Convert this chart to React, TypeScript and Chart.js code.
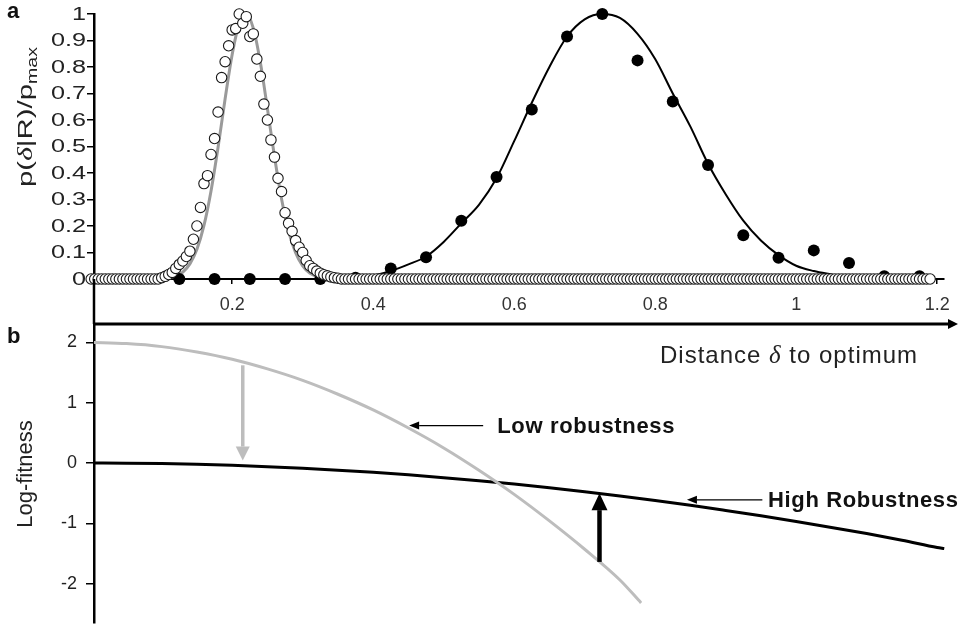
import React, { useEffect, useRef } from 'react';
import { Chart, registerables } from 'chart.js';

Chart.register(...registerables);

const FONT = "'Liberation Sans', Arial, Helvetica, sans-serif";

// ---------- Panel a data ----------
const HOLLOW_STEP = 0.005;
const hollowValues = [
  0, 0, 0, 0, 0, 0, 0, 0, 0, 0, 0, 0, 0, 0, 0, 0, 0, 0, 0, 0,
  0.005, 0.01, 0.017, 0.025, 0.04, 0.055, 0.068, 0.085, 0.105, 0.15, 0.2, 0.27, 0.36, 0.39, 0.47, 0.53, 0.63, 0.76, 0.82, 0.88,
  0.94, 0.945, 1, 0.965, 0.99, 0.915, 0.925, 0.83, 0.765, 0.66, 0.6, 0.525, 0.46, 0.38, 0.33, 0.25, 0.21, 0.18, 0.145, 0.12,
  0.1, 0.07, 0.05, 0.04, 0.03, 0.022, 0.016, 0.012, 0.008, 0.005, 0.003, 0, 0, 0, 0, 0, 0, 0, 0, 0,
  0, 0, 0, 0, 0, 0, 0, 0, 0, 0, 0, 0, 0, 0, 0, 0, 0, 0, 0, 0,
  0, 0, 0, 0, 0, 0, 0, 0, 0, 0, 0, 0, 0, 0, 0, 0, 0, 0, 0, 0,
  0, 0, 0, 0, 0, 0, 0, 0, 0, 0, 0, 0, 0, 0, 0, 0, 0, 0, 0, 0,
  0, 0, 0, 0, 0, 0, 0, 0, 0, 0, 0, 0, 0, 0, 0, 0, 0, 0, 0, 0,
  0, 0, 0, 0, 0, 0, 0, 0, 0, 0, 0, 0, 0, 0, 0, 0, 0, 0, 0, 0,
  0, 0, 0, 0, 0, 0, 0, 0, 0, 0, 0, 0, 0, 0, 0, 0, 0, 0, 0, 0,
  0, 0, 0, 0, 0, 0, 0, 0, 0, 0, 0, 0, 0, 0, 0, 0, 0, 0, 0, 0,
  0, 0, 0, 0, 0, 0, 0, 0, 0, 0, 0, 0, 0, 0, 0, 0, 0, 0, 0,
];

const grayFitX = [0, 0.09, 0.1, 0.11, 0.12, 0.13, 0.14, 0.15, 0.16, 0.17, 0.18, 0.19, 0.2, 0.21, 0.22, 0.23, 0.24, 0.25, 0.26, 0.27, 0.28, 0.29, 0.3, 0.31, 0.32, 0.33, 0.34, 0.35, 1.19];
const grayFitY = [0, 0, 0.0015, 0.0043, 0.011, 0.026, 0.057, 0.112, 0.202, 0.332, 0.497, 0.68, 0.847, 0.964, 0.999, 0.946, 0.817, 0.643, 0.462, 0.303, 0.181, 0.099, 0.049, 0.022, 0.0092, 0.0035, 0.001, 0, 0];

const filledX = [0.125, 0.175, 0.225, 0.275, 0.325, 0.375, 0.425, 0.475, 0.525, 0.575, 0.625, 0.675, 0.725, 0.775, 0.825, 0.875, 0.925, 0.975, 1.025, 1.075, 1.125, 1.175];
const filledY = [0, 0, 0, 0, 0, 0.005, 0.04, 0.082, 0.22, 0.385, 0.64, 0.915, 1, 0.825, 0.67, 0.43, 0.165, 0.08, 0.108, 0.06, 0.01, 0.01];

const blackFitX = [0.125, 0.375, 0.4, 0.425, 0.45, 0.475, 0.5, 0.525, 0.55, 0.575, 0.6, 0.625, 0.65, 0.675, 0.7, 0.725, 0.75, 0.775, 0.8, 0.825, 0.85, 0.875, 0.9, 0.925, 0.95, 0.975, 1, 1.025, 1.05, 1.075, 1.1, 1.19];
const blackFitY = [0, 0, 0.012, 0.03, 0.055, 0.085, 0.14, 0.21, 0.28, 0.38, 0.52, 0.665, 0.8, 0.915, 0.98, 1, 0.985, 0.925, 0.83, 0.7, 0.575, 0.435, 0.32, 0.22, 0.145, 0.09, 0.05, 0.03, 0.017, 0.005, 0, 0];

const yTicksA = [0, 0.1, 0.2, 0.3, 0.4, 0.5, 0.6, 0.7, 0.8, 0.9, 1];
const xTickValues = [0.2, 0.4, 0.6, 0.8, 1, 1.2];

// ---------- Panel b data ----------
const yTicksB = [-2, -1, 0, 1, 2];
const lowRobX = [0, 0.05, 0.1, 0.15, 0.2, 0.25, 0.3, 0.35, 0.4, 0.45, 0.5, 0.55, 0.6, 0.65, 0.7, 0.75, 0.78];
const lowRobY = [2, 1.98, 1.93, 1.84, 1.72, 1.56, 1.37, 1.14, 0.88, 0.58, 0.25, -0.12, -0.52, -0.96, -1.43, -1.94, -2.32];
const highRobX = [0, 0.05, 0.1, 0.15, 0.2, 0.25, 0.3, 0.35, 0.4, 0.45, 0.5, 0.55, 0.6, 0.65, 0.7, 0.75, 0.8, 0.85, 0.9, 0.95, 1, 1.05, 1.1, 1.15, 1.2, 1.21];
const highRobY = [0, -0.002, -0.01, -0.022, -0.039, -0.061, -0.087, -0.119, -0.155, -0.196, -0.243, -0.293, -0.349, -0.41, -0.475, -0.546, -0.621, -0.7, -0.786, -0.875, -0.97, -1.07, -1.17, -1.28, -1.4, -1.42];

// annotation anchors (data coordinates of panel b)
const grayShift = { x: 0.215, from: 1.62, to: 0.04 };
const blackShift = { x: 0.721, from: -1.64, to: -0.5 };
const lowLabel = { text: 'Low robustness', tipX: 0.451, tailX: 0.556, textX: 0.576, y: 0.62 };
const highLabel = { text: 'High Robustness', tipX: 0.845, tailX: 0.952, textX: 0.96, y: -0.61 };

const toPts = (xs: number[], ys: number[]) => xs.map((x, i) => ({ x, y: ys[i] }));
const fmt = (v: number) => String(Math.round(v * 100) / 100);

function drawArrow(ctx: CanvasRenderingContext2D, x1: number, y1: number, x2: number, y2: number, color: string, width: number, headLen: number, headHalf: number) {
  const ang = Math.atan2(y2 - y1, x2 - x1);
  const bx = x2 - Math.cos(ang) * headLen;
  const by = y2 - Math.sin(ang) * headLen;
  ctx.save();
  ctx.strokeStyle = color;
  ctx.fillStyle = color;
  ctx.lineWidth = width;
  ctx.beginPath();
  ctx.moveTo(x1, y1);
  ctx.lineTo(bx, by);
  ctx.stroke();
  ctx.beginPath();
  ctx.moveTo(x2, y2);
  ctx.lineTo(bx + Math.sin(ang) * headHalf, by - Math.cos(ang) * headHalf);
  ctx.lineTo(bx - Math.sin(ang) * headHalf, by + Math.cos(ang) * headHalf);
  ctx.closePath();
  ctx.fill();
  ctx.restore();
}

function setSpacing(ctx: any, px: number) {
  if ('letterSpacing' in ctx) ctx.letterSpacing = `${px}px`;
}

const panelAPlugin = {
  id: 'panelA',
  afterDraw(chart: any) {
    const ctx: CanvasRenderingContext2D = chart.ctx;
    const ys = chart.scales.y;
    ctx.save();

    // y tick labels (horizontally wide, as in the original)
    ctx.font = `18px ${FONT}`;
    ctx.fillStyle = '#222';
    ctx.textAlign = 'right';
    ctx.textBaseline = 'middle';
    ys.ticks.forEach((t: any) => {
      ctx.save();
      ctx.translate(chart.chartArea.left - 8, ys.getPixelForValue(t.value) + 1);
      ctx.scale(1.4, 1);
      ctx.fillText(fmt(t.value), 0, 0);
      ctx.restore();
    });

    ctx.fillStyle = '#111';
    ctx.font = `bold 22px ${FONT}`;
    ctx.textAlign = 'left';
    ctx.textBaseline = 'alphabetic';
    ctx.fillText('a', 7, 18);

    // rotated y title: p(δ|R)/p_max
    const pieces = [
      { t: 'p(', f: `21px ${FONT}`, dy: 0 },
      { t: 'δ', f: `italic 21px 'Liberation Serif', serif`, dy: 0 },
      { t: '|R)/p', f: `21px ${FONT}`, dy: 0 },
      { t: 'max', f: `14px ${FONT}`, dy: 5 },
    ];
    let total = 0;
    const widths = pieces.map((p) => { ctx.font = p.f; const w = ctx.measureText(p.t).width; total += w; return w; });
    const targetLen = 140;
    const s = targetLen / total;
    ctx.translate(32, 117);
    ctx.rotate(-Math.PI / 2);
    ctx.scale(s, 1);
    let x = -total / 2;
    ctx.fillStyle = '#222';
    pieces.forEach((p, i) => {
      ctx.font = p.f;
      ctx.fillText(p.t, x, p.dy);
      x += widths[i];
    });
    ctx.restore();
  },
};

const panelBPlugin = {
  id: 'panelB',
  afterDatasetsDraw(chart: any) {
    const ctx: CanvasRenderingContext2D = chart.ctx;
    const { chartArea, scales } = chart;
    const xs = scales.x;
    const ys = scales.y;
    const W = chart.width;
    ctx.save();
    // y axis continuation up to panel a
    ctx.strokeStyle = '#000';
    ctx.lineWidth = 2.5;
    ctx.beginPath();
    ctx.moveTo(chartArea.left, 0);
    ctx.lineTo(chartArea.left, chartArea.top);
    ctx.stroke();
    // x axis arrow
    drawArrow(ctx, chartArea.left - 1, chartArea.top, W - 1, chartArea.top, '#000', 3, 10, 5);

    // vertical shift arrows
    drawArrow(ctx, xs.getPixelForValue(grayShift.x), ys.getPixelForValue(grayShift.from), xs.getPixelForValue(grayShift.x), ys.getPixelForValue(grayShift.to), '#bdbdbd', 3.5, 14, 7);
    drawArrow(ctx, xs.getPixelForValue(blackShift.x), ys.getPixelForValue(blackShift.from), xs.getPixelForValue(blackShift.x), ys.getPixelForValue(blackShift.to), '#000', 4.5, 17, 8);

    // label arrows
    [lowLabel, highLabel].forEach((l) => {
      const yy = ys.getPixelForValue(l.y);
      drawArrow(ctx, xs.getPixelForValue(l.tailX), yy, xs.getPixelForValue(l.tipX), yy, '#000', 1.3, 10, 4);
      ctx.font = `bold 22px ${FONT}`;
      ctx.fillStyle = '#111';
      ctx.textAlign = 'left';
      ctx.textBaseline = 'middle';
      setSpacing(ctx, 0.65);
      ctx.fillText(l.text, xs.getPixelForValue(l.textX), yy + 1);
      setSpacing(ctx, 0);
    });

    // panel letter
    ctx.font = `bold 22px ${FONT}`;
    ctx.textAlign = 'left';
    ctx.textBaseline = 'alphabetic';
    ctx.fillText('b', 7, 64);

    // x title
    const parts = [
      { t: 'Distance ', f: `24px ${FONT}` },
      { t: 'δ', f: `italic 25px 'Liberation Serif', serif` },
      { t: ' to optimum', f: `24px ${FONT}` },
    ];
    let px = 660;
    ctx.fillStyle = '#222';
    ctx.textBaseline = 'alphabetic';
    setSpacing(ctx, 1);
    parts.forEach((p) => {
      ctx.font = p.f;
      ctx.fillText(p.t, px, 84);
      px += ctx.measureText(p.t).width;
    });
    setSpacing(ctx, 0);

    // y title
    ctx.translate(32, 195);
    ctx.rotate(-Math.PI / 2);
    ctx.font = `22px ${FONT}`;
    ctx.textAlign = 'center';
    ctx.textBaseline = 'alphabetic';
    ctx.fillText('Log-fitness', 0, 0);
    ctx.restore();
  },
};

export default function App() {
  const topRef = useRef<HTMLCanvasElement>(null);
  const botRef = useRef<HTMLCanvasElement>(null);

  useEffect(() => {
    const hollowPts = hollowValues.map((v, i) => ({ x: Math.round(i * HOLLOW_STEP * 1000) / 1000, y: v }));
    const tickFont = { family: FONT, size: 18 };
    const noPad = (s: any) => { s.paddingTop = 0; s.paddingBottom = 0; };

    const top = new Chart(topRef.current as HTMLCanvasElement, {
      type: 'scatter',
      data: {
        datasets: [
          { label: 'simulated R low', data: hollowPts, pointRadius: 5.2, pointBackgroundColor: '#fff', pointBorderColor: '#1a1a1a', pointBorderWidth: 1.1, showLine: false, order: 0, clip: false } as any,
          { label: 'simulated R high', data: toPts(filledX, filledY), pointRadius: 6, pointBackgroundColor: '#000', pointBorderColor: '#000', pointBorderWidth: 0, showLine: false, order: 1, clip: false } as any,
          { label: 'fit low', data: toPts(grayFitX, grayFitY), showLine: true, borderColor: '#9a9a9a', borderWidth: 3, pointRadius: 0, cubicInterpolationMode: 'monotone', order: 2, clip: false } as any,
          { label: 'fit high', data: toPts(blackFitX, blackFitY), showLine: true, borderColor: '#000', borderWidth: 2, pointRadius: 0, cubicInterpolationMode: 'monotone', order: 3, clip: false } as any,
        ],
      },
      options: {
        responsive: false,
        maintainAspectRatio: false,
        animation: false,
        events: [],
        layout: { padding: { top: 14, right: 14.8, bottom: 0, left: 0 } },
        plugins: { legend: { display: false }, tooltip: { enabled: false } },
        scales: {
          x: {
            type: 'linear',
            min: 0.004,
            max: 1.21,
            afterFit: (s: any) => { s.height = 21; },
            afterBuildTicks: (s: any) => { s.ticks = xTickValues.map((v) => ({ value: v })); },
            ticks: { display: false },
            grid: { drawOnChartArea: false, drawTicks: true, tickLength: 5, color: '#000', lineWidth: 1.5 },
            border: { color: '#000', width: 2 },
          },
          y: {
            type: 'linear',
            min: 0,
            max: 1,
            z: 1,
            afterFit: (s: any) => { s.width = 94; noPad(s); },
            afterBuildTicks: (s: any) => { s.ticks = yTicksA.map((v) => ({ value: v })); },
            ticks: { display: false },
            grid: { drawOnChartArea: false, drawTicks: true, tickLength: 7, color: '#000', lineWidth: 1.5 },
            border: { color: '#000', width: 2.5 },
          },
        },
      } as any,
      plugins: [panelAPlugin],
    });

    const bot = new Chart(botRef.current as HTMLCanvasElement, {
      type: 'scatter',
      data: {
        datasets: [
          { label: 'Low robustness', data: toPts(lowRobX, lowRobY), showLine: true, borderColor: '#bdbdbd', borderWidth: 3, pointRadius: 0, cubicInterpolationMode: 'monotone' } as any,
          { label: 'High Robustness', data: toPts(highRobX, highRobY), showLine: true, borderColor: '#000', borderWidth: 3, pointRadius: 0, cubicInterpolationMode: 'monotone' } as any,
        ],
      },
      options: {
        responsive: false,
        maintainAspectRatio: false,
        animation: false,
        events: [],
        layout: { padding: { top: 0, right: 7.7, bottom: 2, left: 0 } },
        plugins: { legend: { display: false }, tooltip: { enabled: false } },
        scales: {
          x: {
            type: 'linear',
            position: 'top',
            min: 0.004,
            max: 1.22,
            afterFit: (s: any) => { s.height = 45; },
            afterBuildTicks: (s: any) => { s.ticks = xTickValues.map((v) => ({ value: v })); },
            ticks: { font: tickFont, color: '#333', padding: 8, maxRotation: 0, autoSkip: false, callback: (v: any) => fmt(Number(v)) },
            grid: { drawOnChartArea: false, drawTicks: false },
            border: { display: false },
          },
          y: {
            type: 'linear',
            min: -2.653,
            max: 2.305,
            afterFit: (s: any) => { s.width = 94; noPad(s); },
            afterBuildTicks: (s: any) => { s.ticks = yTicksB.map((v) => ({ value: v })); },
            ticks: { font: tickFont, color: '#222', padding: 9, callback: (v: any) => fmt(Number(v)) },
            grid: { drawOnChartArea: false, drawTicks: true, tickLength: 8, color: '#000', lineWidth: 1.5 },
            border: { color: '#000', width: 2.5 },
          },
        },
      } as any,
      plugins: [panelBPlugin],
    });

    return () => {
      top.destroy();
      bot.destroy();
    };
  }, []);

  return (
    <div style={{ position: 'fixed', left: 0, top: 0, width: 959, height: 625, background: '#fff' }}>
      <canvas ref={topRef} width={959} height={300} style={{ position: 'absolute', left: 0, top: 0 }} />
      <canvas ref={botRef} width={959} height={346} style={{ position: 'absolute', left: 0, top: 279 }} />
    </div>
  );
}
